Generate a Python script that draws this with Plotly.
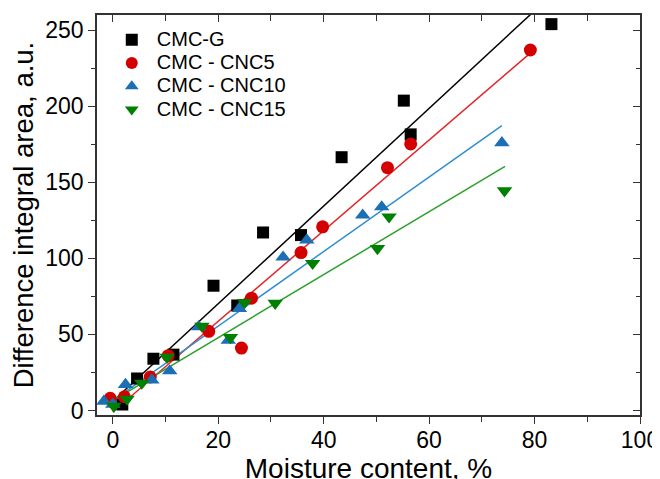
import plotly.graph_objects as go
import numpy as np

# ---- data ----
g_x = [1.8, 4.6, 7.7, 11.5, 19.1, 23.6, 28.5, 35.7, 43.4, 55.2, 56.5, 83.2]
g_y = [3.9, 21, 34, 36.7, 82, 69, 117, 115.3, 166.5, 203.7, 181.5, 254]

c5_x = [-0.5, 2.2, 7.1, 10.5, 18.2, 24.4, 26.3, 35.7, 39.8, 52.1, 56.5, 79.2]
c5_y = [8, 9, 22, 36, 52, 41, 73.8, 103.8, 120.7, 159.6, 175.2, 237]

c10_x = [-1.7, 0, 2.4, 7.4, 10.8, 16.3, 21.9, 24, 32.3, 36.8, 47.4, 51, 73.8]
c10_y = [6, 4, 17, 20, 26, 55, 46, 67, 100.8, 112, 128.4, 133.8, 176]

c15_x = [0.2, 2.7, 5.5, 10.3, 16.9, 22.3, 25.0, 30.8, 37.9, 50.2, 52.4, 74.3]
c15_y = [2.8, 7.5, 18, 35, 55.5, 48, 71, 70.5, 96.7, 106.5, 127.3, 144.5]

# linear fits (slope, intercept, x-end)
fit_g = (3.21, 6.0, 83.2)
fit_c5 = (2.98, -1.0, 78.8)
fit_c10 = (2.45, 6.5, 73.8)
fit_c15 = (2.07, 6.5, 74.4)

names = ["CMC-G", "CMC - CNC5", "CMC - CNC10", "CMC - CNC15"]
x_ticks = [0, 20, 40, 60, 80, 100]
y_ticks = [0, 50, 100, 150, 200, 250]

marker_colors = ["#000000", "#d40000", "#1a6fb5", "#008000"]
line_colors = ["#000000", "#e3262b", "#2f8fd0", "#2ca02c"]
symbols = ["square", "circle", "triangle-up", "triangle-down"]
sizes = [12, 13, 13.5, 13.5]

fig = go.Figure()

series = [(g_x, g_y, fit_g), (c5_x, c5_y, fit_c5), (c10_x, c10_y, fit_c10), (c15_x, c15_y, fit_c15)]

# fit lines first (under markers)
for i, (xs, ys, fit) in enumerate(series):
    k, b, xe = fit
    lx = np.array([0.0, xe])
    fig.add_trace(go.Scatter(x=lx, y=k * lx + b, mode="lines",
                             line=dict(color=line_colors[i], width=1.5),
                             showlegend=False, hoverinfo="skip"))

for i, (xs, ys, fit) in enumerate(series):
    fig.add_trace(go.Scatter(x=xs, y=ys, mode="markers",
                             name='<span style="font-size:20px">' + names[i] + '</span>',
                             marker=dict(symbol=symbols[i], size=sizes[i],
                                         color=marker_colors[i], line=dict(width=0))))

# invisible trace on overlay axes so top/right ticks are drawn
fig.add_trace(go.Scatter(x=[None], y=[None], xaxis="x2", yaxis="y2",
                         showlegend=False, hoverinfo="skip"))

xr = [-3, 100]
yr = [-3, 260]
font = "Liberation Sans, Arial, sans-serif"
axc = "#333333"

# page body has an 8px default margin, margins below compensate for it
fig.update_layout(
    width=660, height=479,
    margin=dict(l=89, r=28, t=7, b=72, autoexpand=False),
    paper_bgcolor="white", plot_bgcolor="white",
    font=dict(family=font, color="#000000"),
    showlegend=True,
    legend=dict(x=0.018, y=0.98, xanchor="left", yanchor="top",
                font=dict(size=15.6, family=font), bgcolor="rgba(0,0,0,0)",
                itemsizing="constant", tracegroupgap=0, itemwidth=40),
    xaxis=dict(range=xr, tickvals=x_ticks, ticks="outside", ticklen=7, tickwidth=1.3,
               tickcolor=axc, showline=True, linecolor=axc, linewidth=1.5,
               mirror=True, showgrid=False, zeroline=False, automargin=False,
               tickfont=dict(size=23), ticklabelstandoff=-3,
               minor=dict(dtick=10, tick0=0, ticks="outside", ticklen=5, tickcolor=axc),
               title=dict(text="Moisture content, %", font=dict(size=28), standoff=0)),
    yaxis=dict(range=yr, tickvals=y_ticks, ticks="outside", ticklen=7, tickwidth=1.3,
               tickcolor=axc, showline=True, linecolor=axc, linewidth=1.5,
               mirror=True, showgrid=False, zeroline=False, automargin=False,
               tickfont=dict(size=23),
               minor=dict(dtick=25, tick0=0, ticks="outside", ticklen=4, tickcolor=axc),
               title=dict(text="Difference integral area, a.u.", font=dict(size=27.5), standoff=6)),
    xaxis2=dict(range=xr, overlaying="x", side="top", tickvals=x_ticks, ticks="inside",
                ticklen=7, tickwidth=1.3, tickcolor=axc, showticklabels=False,
                showgrid=False, zeroline=False, showline=False, automargin=False,
                minor=dict(dtick=10, tick0=0, ticks="inside", ticklen=6, tickcolor=axc)),
    yaxis2=dict(range=yr, overlaying="y", side="right", tickvals=y_ticks, ticks="inside",
                ticklen=7, tickwidth=1.3, tickcolor=axc, showticklabels=False,
                showgrid=False, zeroline=False, showline=False, automargin=False,
                minor=dict(dtick=25, tick0=0, ticks="inside", ticklen=4, tickcolor=axc)),
)

fig.write_html("out.html")
